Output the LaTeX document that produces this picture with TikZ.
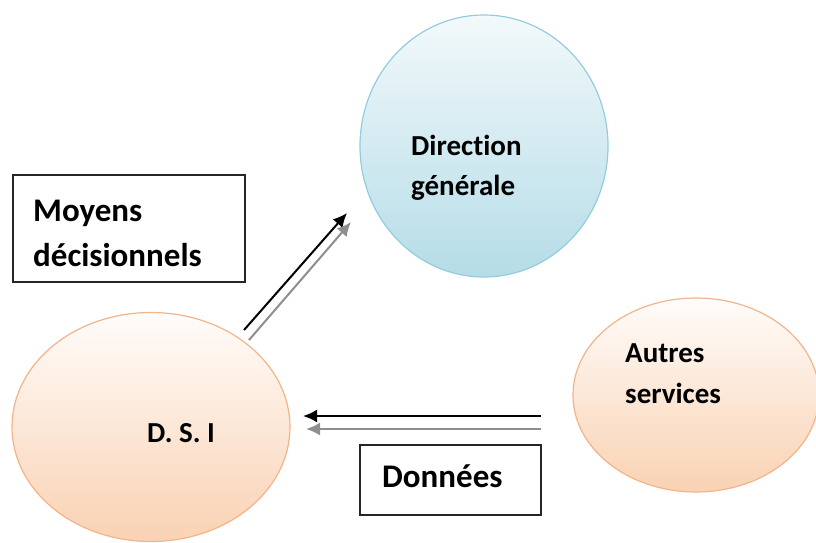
\documentclass[tikz,border=0pt]{standalone}
\usepackage{fontspec}
\setmainfont{Carlito}[RawFeature={-liga}]
\usetikzlibrary{shapes.geometric,arrows.meta}

\definecolor{bluefillTop}{HTML}{F2F9FB}
\definecolor{bluefillBot}{HTML}{B5DCE7}
\definecolor{blueline}{HTML}{93CDDD}
\definecolor{peachTop}{HTML}{FFFCFA}
\definecolor{peachBot}{HTML}{F9D2B3}
\definecolor{peachline}{HTML}{F2B48A}
\definecolor{greyarrow}{HTML}{8E8E8E}

\tikzset{
  bubbleblue/.style={ellipse, draw=blueline, line width=1.2pt,
    top color=bluefillTop, bottom color=bluefillBot, inner sep=0pt},
  bubblepeach/.style={ellipse, draw=peachline, line width=1.2pt,
    top color=peachTop, bottom color=peachBot, inner sep=0pt},
  labelbox/.style={draw=black!85, line width=1.4pt, fill=white, inner sep=0pt},
  lbl/.style={anchor=base west, inner sep=0pt, font=\bfseries\fontsize{29}{35}\selectfont},
  biglbl/.style={anchor=base west, inner sep=0pt, font=\bfseries\fontsize{33}{40}\selectfont},
  flowmain/.style={draw=black, line width=2pt, -{Latex[length=14pt,width=13pt]}},
  flowshade/.style={draw=greyarrow, line width=2pt, -{Latex[length=14pt,width=13pt]}}
}

\begin{document}
\begin{tikzpicture}[x=1pt,y=-1pt]
  \useasboundingbox (0,0) rectangle (816,543);

  % the three entities
  \node[bubbleblue, minimum width=248pt, minimum height=262pt] (dg) at (484,146) {};
  \node[bubblepeach, minimum width=278pt, minimum height=229pt] (dsi) at (151,427) {};
  \node[bubblepeach, minimum width=246pt, minimum height=194pt] (autres) at (696,395) {};

  % labels inside the entities
  \node[lbl] (dgA) at (411,155) {Direction};
  \node[lbl] (dgB) at (411,195) {générale};
  \node[lbl] (dsiL) at (147,442) {D. S. I};
  \node[lbl] (autA) at (625,362) {Autres};
  \node[lbl] (autB) at (625,403) {services};

  % caption boxes
  \draw[labelbox] (13,175) rectangle (245,282);
  \node[biglbl] (moyA) at (33,221) {Moyens};
  \node[biglbl] (moyB) at (33,266) {décisionnels};

  \draw[labelbox] (360,445) rectangle (541,515);
  \node[biglbl] (don) at (382,487) {Données};

  % flow ends
  \coordinate (up1s) at (244,330);
  \coordinate (up1e) at (347,213);
  \coordinate (up2s) at (249,340);
  \coordinate (up2e) at (351,222);
  \coordinate (in1s) at (541,416);
  \coordinate (in1e) at (303,416);
  \coordinate (in2s) at (541,429);
  \coordinate (in2e) at (306,429);

  % flows
  \draw[flowmain] (up1s) -- (up1e);
  \draw[flowshade] (up2s) -- (up2e);
  \draw[flowmain] (in1s) -- (in1e);
  \draw[flowshade] (in2s) -- (in2e);
\end{tikzpicture}
\end{document}
